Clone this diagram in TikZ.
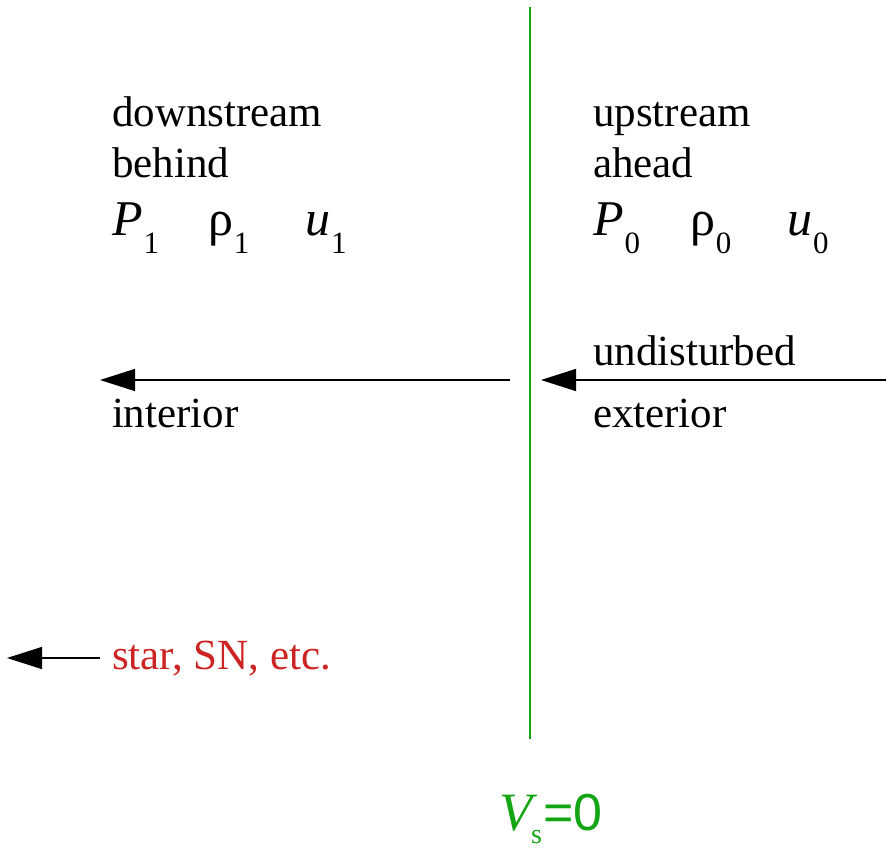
\documentclass[tikz,border=0pt]{standalone}
\usepackage{fontspec}
\setmainfont{Liberation Serif}
\newfontfamily\sansf{Liberation Sans}
\usetikzlibrary{arrows.meta}
\definecolor{shockgreen}{RGB}{20,165,20}
\definecolor{labred}{RGB}{205,35,35}
\tikzset{
  lbl/.style={anchor=base west,inner sep=0pt,outer sep=0pt,font=\fontsize{43}{43}\selectfont},
  sym/.style={anchor=base west,inner sep=0pt,outer sep=0pt,font=\fontsize{50}{50}\selectfont},
  flow/.style={line width=1.3pt,-{Triangle[length=35pt,width=22pt]}},
}
\newcommand{\subsc}[1]{\kern1pt\raisebox{-18pt}{\fontsize{31}{31}\selectfont\upshape #1}}
\begin{document}
\begin{tikzpicture}[x=1pt,y=-1pt]
\useasboundingbox (0,0) rectangle (886,848);
% shock front
\coordinate (stop) at (530,7);
\coordinate (sbot) at (530,739);
\draw[shockgreen,line width=1.2pt] (stop) -- (sbot);
% left texts
\node[lbl] (down) at (112,127) {downstream};
\node[lbl] (behind) at (112,178) {behind};
\node[sym] (P1) at (112,235) {\itshape P\subsc{1}};
\node[sym] (r1) at (208,235) {ρ\subsc{1}};
\node[sym] (u1) at (305,235) {\itshape u\subsc{1}};
\node[lbl] (interior) at (112,427) {interior};
% right texts
\node[lbl] (up) at (593,127) {upstream};
\node[lbl] (ahead) at (593,178) {ahead};
\node[sym] (P0) at (593,235) {\itshape P\subsc{0}};
\node[sym] (r0) at (690,235) {ρ\subsc{0}};
\node[sym] (u0) at (787,235) {\itshape u\subsc{0}};
\node[lbl] (undist) at (593,365) {undisturbed};
\node[lbl] (exterior) at (593,427) {exterior};
% star label
\node[lbl,text=labred] (star) at (112,669) {star, SN, etc.};
% V_s = 0
\node[anchor=base west,inner sep=0pt,text=shockgreen] (vs) at (499,830)
  {{\fontsize{54}{54}\selectfont\itshape V}\kern-1pt\raisebox{-13pt}{\fontsize{28}{28}\selectfont s}\kern1pt{\sansf\fontsize{52}{52}\selectfont =0}};
% flow arrows
\coordinate (a1s) at (510,380);
\coordinate (a1e) at (100,380);
\coordinate (a2s) at (886,380);
\coordinate (a2e) at (541,380);
\coordinate (a3s) at (100,658);
\coordinate (a3e) at (7,658);
\draw[flow] (a1s) -- (a1e);
\draw[flow] (a2s) -- (a2e);
\draw[flow] (a3s) -- (a3e);
\end{tikzpicture}
\end{document}
